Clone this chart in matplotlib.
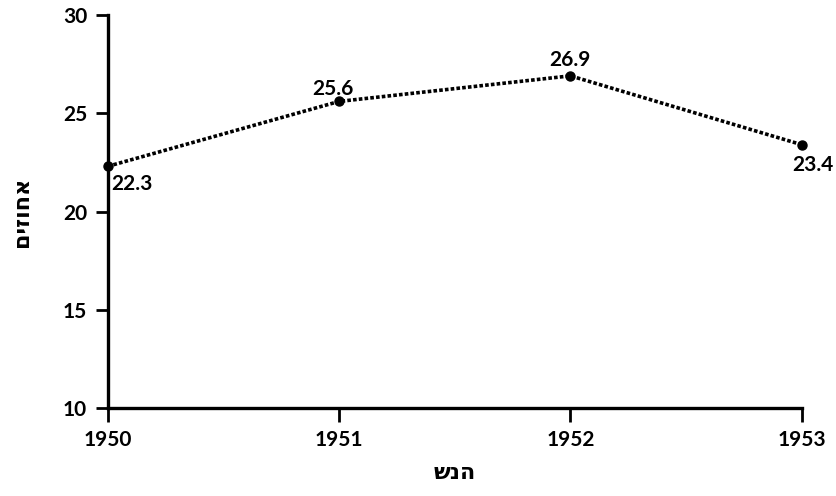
import matplotlib
matplotlib.use('Agg')
import matplotlib.pyplot as plt

years = [1950, 1951, 1952, 1953]
percent = [22.3, 25.6, 26.9, 23.4]
point_labels = ['22.3', '25.6', '26.9', '23.4']
yticks = [10, 15, 20, 25, 30]

# label offsets in pixels (dx, dy) and alignment per point
label_offsets = [(3, -18), (-6, 12), (0, 16), (11, -20)]
label_ha = ['left', 'center', 'center', 'center']

xlabel = 'שנה'
ylabel = 'אחוזים'

plt.rcParams['font.family'] = ['Lato', 'DejaVu Sans']
plt.rcParams['font.weight'] = 'bold'

fig = plt.figure(figsize=(8.36, 4.96), dpi=100)
ax = fig.add_axes([0.129, 0.177, 0.830, 0.793])

ax.plot(years, percent, color='black', linestyle=(0, (1, 0.6)), linewidth=2.6,
        marker='o', markersize=6.5, markerfacecolor='black', markeredgecolor='black',
        clip_on=False, zorder=3)

for x, y, lab, (dx, dy), ha in zip(years, percent, point_labels, label_offsets, label_ha):
    ax.annotate(lab, (x, y), xytext=(dx, dy), textcoords='offset pixels',
                ha=ha, va='center', fontsize=15, fontweight='bold')

ax.set_xlim(1950, 1953)
ax.set_ylim(10, 30)
ax.set_xticks(years)
ax.set_yticks(yticks)
ax.tick_params(axis='both', direction='out', width=2, labelsize=15)
ax.tick_params(axis='y', length=9, pad=6)
ax.tick_params(axis='x', length=10, pad=6)
for t in ax.get_xticklabels() + ax.get_yticklabels():
    t.set_fontweight('bold')

for s in ['top', 'right']:
    ax.spines[s].set_visible(False)
for s in ['left', 'bottom']:
    ax.spines[s].set_linewidth(2.4)

# matplotlib draws glyphs left-to-right in string order; the reference shows
# the x label that way and the rotated y label in proper visual order
ax.set_xlabel(xlabel, fontsize=16, fontweight='bold', labelpad=8)
ax.set_ylabel(ylabel[::-1], fontsize=16, fontweight='bold', labelpad=22)

fig.savefig('out.png', dpi=100)
